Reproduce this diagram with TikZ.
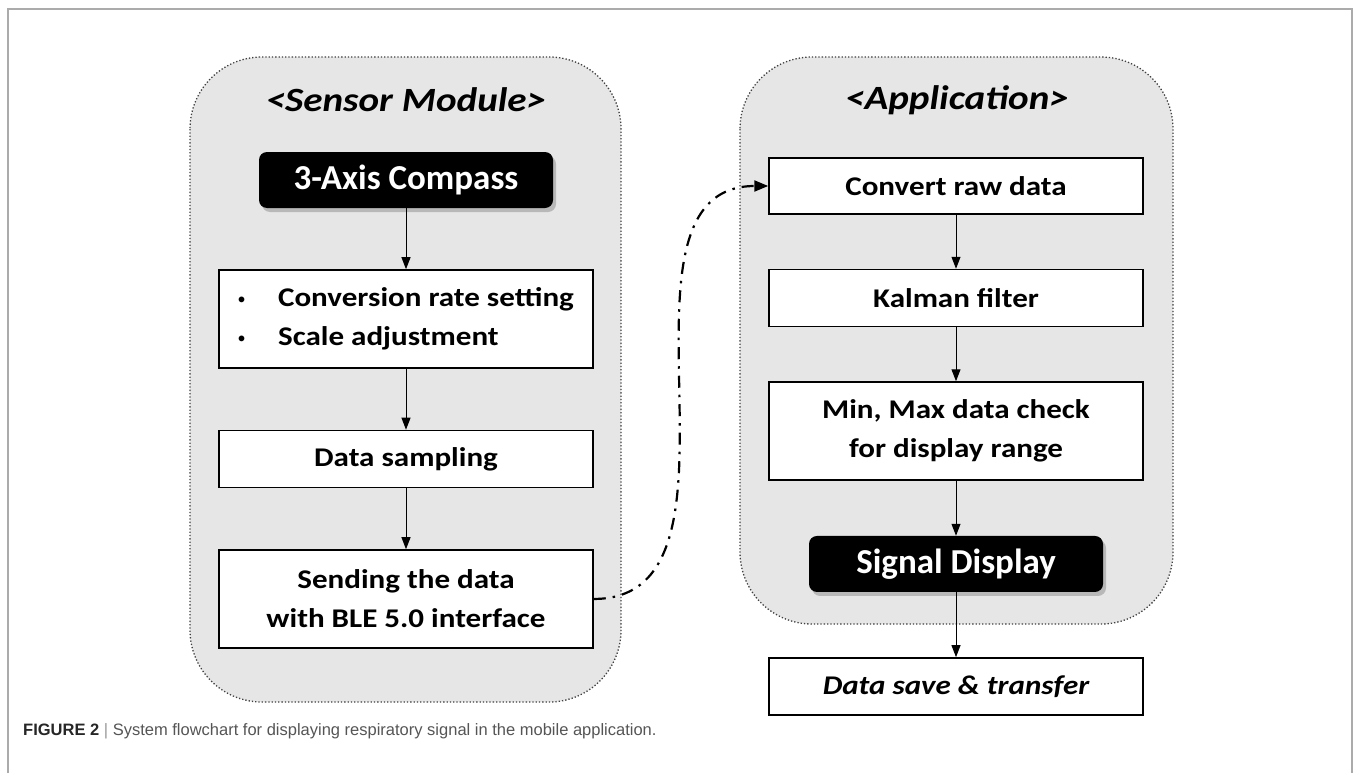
\documentclass[tikz,border=0pt]{standalone}
\usepackage{fontspec}
\setmainfont{Carlito}
\newfontfamily\boxfont[FakeStretch=1.15]{Carlito}
\newfontfamily\capfont{Liberation Sans}
\usetikzlibrary{arrows.meta,positioning,shadows}
\definecolor{panelgray}{HTML}{E6E6E6}
\definecolor{framegray}{HTML}{ABABAB}
\definecolor{captiongray}{HTML}{555555}

\begin{document}
\begin{tikzpicture}[x=1pt, y=1pt, node distance=61pt, >={Triangle[length=12pt,width=9pt]},
  every node/.style={font=\boxfont\fontsize{27}{39}\selectfont\bfseries},
  box/.style={draw, line width=1.5pt, fill=white, align=center, minimum width=374pt, minimum height=57pt, inner sep=0pt},
  tallbox/.style={box, minimum height=98pt},
  endbox/.style={fill=black, text=white, rounded corners=8pt, minimum width=294pt, minimum height=56pt, inner sep=0pt, font=\fontsize{35}{40}\selectfont\bfseries, drop shadow={shadow xshift=3pt, shadow yshift=-4pt, fill=black!45}},
  module/.style={draw=black!75, line width=1.3pt, dotted, fill=panelgray, rounded corners=72pt},
  title/.style={font=\boxfont\fontsize{34}{42}\selectfont\bfseries\itshape},
  link/.style={->, line width=1pt}]
\useasboundingbox (0,0) rectangle (1356,-773);
\draw[framegray, line width=1.5pt] (8,-773) -- (8,-9) -- (1352,-9) -- (1352,-773);
\draw[module] (190,-57) rectangle (621,-702);
\draw[module] (740,-57) rectangle (1173,-624);
\node[title] (sensortitle) at (406,-100) {<Sensor Module>};
\node[endbox] (compass) at (406,-180) {3-Axis Compass};
\node[tallbox, align=left, below=of compass] (conv) {\makebox[40pt][l]{\capfont\fontsize{20}{20}\selectfont\textbullet}Conversion rate setting\\\makebox[40pt][l]{\capfont\fontsize{20}{20}\selectfont\textbullet}Scale adjustment};
\node[box, below=of conv] (sampling) {Data sampling};
\node[tallbox, below=of sampling] (sending) {Sending the data\\with BLE 5.0 interface};
\node[title] (apptitle) at (957,-100) {<Application>};
\node[box, minimum height=56pt] (rawdata) at (956,-186) {Convert raw data};
\node[box, below=54pt of rawdata] (kalman) {Kalman filter};
\node[tallbox, below=54pt of kalman] (range) {Min, Max data check\\for display range};
\node[endbox, below=55pt of range] (display) {Signal Display};
\node[box, below=65pt of display, font=\boxfont\fontsize{27}{39}\selectfont\bfseries\itshape] (save) {Data save \& transfer};
\node[anchor=west, inner sep=0pt, font=\capfont\fontsize{16.5}{20}\selectfont, text=captiongray] (caption) at (23,-731) {\textbf{\color{black!85}FIGURE 2} {\color{black!40}|} System flowchart for displaying respiratory signal in the mobile application.};
\draw[link] (compass) -- (conv);
\draw[link] (conv) -- (sampling);
\draw[link] (sampling) -- (sending);
\draw[link] (rawdata) -- (kalman);
\draw[link] (kalman) -- (range);
\draw[link] (range) -- (display);
\draw[link] (display) -- (save);
\draw[line width=2.2pt, dash pattern=on 12pt off 7pt on 2.5pt off 7pt, -{Triangle[length=14pt,width=11pt]}] (sending.east) to[out=0, in=180] (rawdata.west);
\end{tikzpicture}
\end{document}
